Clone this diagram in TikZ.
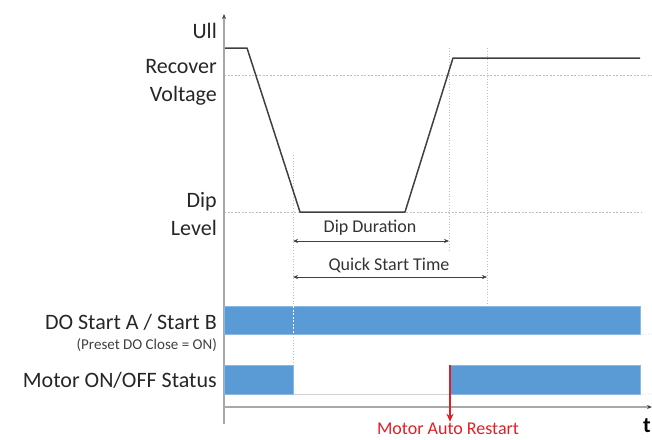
\documentclass[tikz,border=0pt]{standalone}
\usepackage{fontspec}
\setmainfont{Carlito}
\usetikzlibrary{arrows.meta, positioning}
\definecolor{barblue}{RGB}{91,155,213}
\definecolor{axisgray}{RGB}{168,168,168}
\definecolor{curvegray}{RGB}{64,64,64}
\definecolor{guidegray}{RGB}{190,190,190}
\definecolor{restartred}{RGB}{225,30,35}

\begin{document}
\begin{tikzpicture}[
    x=1pt, y=-1pt,
    >={Stealth[length=5pt, width=4pt]},
    biglabel/.style={anchor=base east, font=\fontsize{22}{28}\selectfont, text=black!85, inner sep=0pt},
    smalllabel/.style={anchor=base, font=\fontsize{18}{22}\selectfont, text=black!80, inner sep=0pt},
    bar/.style={fill=barblue, draw=barblue!70!white, line width=0.4pt, anchor=north west, inner sep=0pt, minimum height=29pt},
    guide/.style={guidegray, dotted, line width=0.8pt},
    levelline/.style={guidegray, dash pattern=on 2pt off 1.5pt, line width=0.6pt},
]
    \useasboundingbox (0,0) rectangle (652,439);

    % Time marks
    \coordinate (tdip) at (293,0);
    \coordinate (tend) at (449,0);
    \coordinate (tquick) at (487,0);

    % Level lines
    \draw[levelline] (224,75) -- (652,75);
    \draw[levelline] (224,212) -- (642,212);

    % Guides
    \draw[guide] (293,155) -- (293,365);
    \draw[guide] (449,48) -- (449,250);
    \draw[guide] (487,48) -- (487,306);

    % Voltage curve
    \draw[curvegray, line width=1.5pt, line join=round]
        (224,48) -- (247,48) -- (300,212) -- (405,212) -- (453,58) -- (640,58);

    % Axes
    \draw[axisgray, line width=1.2pt, -{Stealth[length=5pt, width=4pt, color=black!75]}] (224,424) -- (224,14);
    \draw[axisgray, line width=1.2pt, -{Stealth[length=5pt, width=4pt, color=black!75]}] (224,407) -- (652,407);
    \node[anchor=base west, font=\fontsize{22}{26}\selectfont\bfseries, inner sep=0pt] (tlabel) at (643,432) {t};

    % Voltage labels
    \node[biglabel] (ull) at (217,38) {Ull};
    \node[biglabel] (recover) at (217,73) {Recover};
    \node[biglabel] (voltage) at (217,101) {Voltage};
    \node[biglabel] (dip) at (217,207) {Dip};
    \node[biglabel] (level) at (217,235) {Level};

    % Durations
    \node[smalllabel] (dipdur) at (370,232) {Dip Duration};
    \draw[<->, curvegray, line width=0.6pt] (tdip |- 0,241) -- (tend |- 0,241);
    \node[smalllabel] (quick) at (389,270) {Quick Start Time};
    \draw[<->, curvegray, line width=0.6pt] (tdip |- 0,277) -- (tquick |- 0,277);

    % DO signal
    \node[bar, minimum width=416pt, minimum height=28pt] (dostart) at (224,306) {};
    \draw[white, dash pattern=on 2pt off 1.5pt, line width=0.6pt] (293,306) -- (293,334);
    \draw[guide, line width=0.6pt] (dostart.south east) -- (652,334);
    \node[biglabel] (dolabel) at (217,329) {DO Start A / Start B};
    \node[anchor=base east, font=\fontsize{15}{18}\selectfont, text=black!75, inner sep=0pt] (preset) at (217,349) {(Preset DO Close = ON)};

    % Motor status
    \draw[guidegray!70, line width=0.6pt] (293,394) -- (450,394);
    \node[bar, minimum width=69pt] (motorA) at (224,365) {};
    \node[bar, minimum width=190pt] (motorB) at (450,365) {};
    \draw[guide, line width=0.6pt] (motorB.south east) -- (652,394);
    \node[biglabel] (motorlabel) at (217,387) {Motor ON/OFF Status};

    % Restart
    \node[anchor=base, font=\fontsize{18}{22}\selectfont, text=restartred, inner sep=0pt] (restart) at (448,434.5) {Motor Auto Restart};
    \draw[-{Stealth[length=8pt, width=7pt]}, restartred, line width=1.5pt, shorten >=1pt] (motorB.north west) -- (motorB.north west |- restart.north);
\end{tikzpicture}
\end{document}
